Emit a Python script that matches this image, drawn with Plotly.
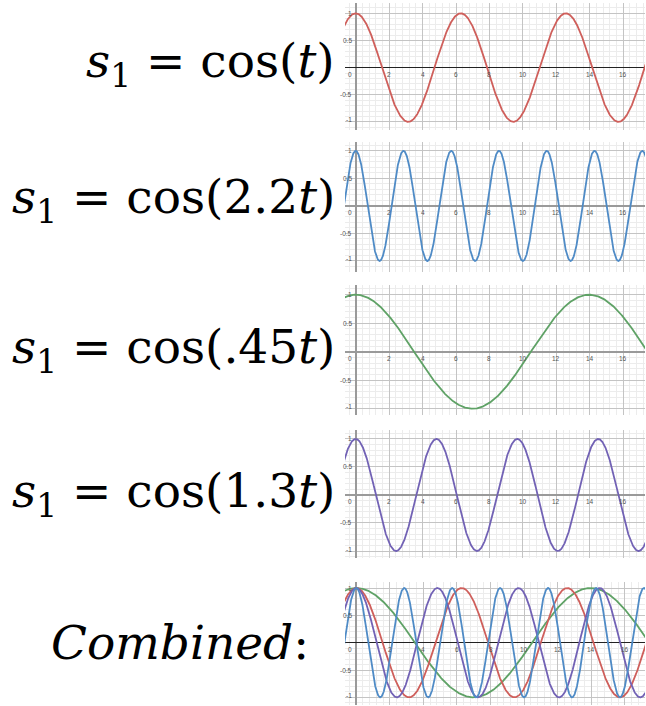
import numpy as np
import plotly.graph_objects as go

# ---- data ----
freqs = [1.0, 2.2, 0.45, 1.3]
colors = ["#cf5f5b", "#4f8bc6", "#5fa266", "#7262b5"]
labels = [
    "<i>s</i><sub>1</sub> = cos(<i>t</i>)",
    "<i>s</i><sub>1</sub> = cos(2.2<i>t</i>)",
    "<i>s</i><sub>1</sub> = cos(.45<i>t</i>)",
    "<i>s</i><sub>1</sub> = cos(1.3<i>t</i>)",
    "<i>Combined</i>:",
]
x_ticks = [2, 4, 6, 8, 10, 12, 14, 16]
x_tick_text = ["2", "4", "6", "8", "10", "12", "14", "16"]
y_ticks = [1, 0.5, -0.5, -1]
y_tick_text = ["1", "0.5", "-0.5", "-1"]

W, H = 646, 706
# panel pixel boxes (top, bottom) and ranges
panels = [
    dict(top=3, bottom=130, yr=[-1.15, 1.19], xr=[-0.64, 17.3], axis="#222222"),
    dict(top=142, bottom=272, yr=[-1.20, 1.16], xr=[-0.64, 17.3], axis="#9a9a9a"),
    dict(top=285, bottom=415, yr=[-1.11, 1.17], xr=[-0.64, 17.3], axis="#9a9a9a"),
    dict(top=430, bottom=558, yr=[-1.125, 1.16], xr=[-0.64, 17.3], axis="#9a9a9a"),
    dict(top=582, bottom=705, yr=[-1.14, 1.11], xr=[-0.67, 17.2], axis="#222222"),
]
x0px, x1px = 345, 645
text_y = [64, 200, 350, 494, 642]
text_x = [337, 337, 337, 337, 311]

t = np.arange(-0.8, 17.5, 0.01)

fig = go.Figure()
annotations = []
tick_font = dict(size=6.5, color="#555555", family="Liberation Sans")
for i, p in enumerate(panels):
    n = "" if i == 0 else str(i + 1)
    xa, ya = "x" + n, "y" + n
    if i < 4:
        series = [(freqs[i], colors[i])]
    else:
        series = [(f, c) for f, c in zip(freqs, colors)]
        series = [series[2], series[0], series[3], series[1]]
    for f, c in series:
        fig.add_trace(go.Scatter(x=t, y=np.cos(f * t), mode="lines",
                                 line=dict(color=c, width=1.8),
                                 xaxis=xa, yaxis=ya, showlegend=False,
                                 hoverinfo="skip"))
    dom_y = [1 - p["bottom"] / H, 1 - p["top"] / H]
    dom_x = [x0px / W, x1px / W]
    fig.update_layout({
        ("xaxis" + n): dict(domain=dom_x, range=p["xr"], anchor=ya,
                            tick0=0, dtick=2, showgrid=True,
                            gridcolor="#c4c4c4", gridwidth=1,
                            minor=dict(dtick=0.4, showgrid=True,
                                       gridcolor="#ececec", gridwidth=1),
                            zeroline=True, zerolinecolor="#9a9a9a",
                            zerolinewidth=2, showticklabels=False,
                            showline=False, fixedrange=True),
        ("yaxis" + n): dict(domain=dom_y, range=p["yr"], anchor=xa,
                            tick0=0, dtick=0.5, showgrid=True,
                            gridcolor="#c4c4c4", gridwidth=1,
                            minor=dict(dtick=0.1, showgrid=True,
                                       gridcolor="#ececec", gridwidth=1),
                            zeroline=True, zerolinecolor=p["axis"],
                            zerolinewidth=1.6, showticklabels=False,
                            showline=False, fixedrange=True),
    })
    # tick labels in the Desmos style (inside the plot, next to the axes)
    for v, s in zip(x_ticks, x_tick_text):
        annotations.append(dict(x=v, y=0, xref=xa, yref=ya, text=s,
                                showarrow=False, yanchor="top", yshift=-1,
                                font=tick_font))
    annotations.append(dict(x=-0.12, y=0, xref=xa, yref=ya, text="0",
                            showarrow=False, yanchor="top", xanchor="right",
                            yshift=-1, font=tick_font))
    for v, s in zip(y_ticks, y_tick_text):
        ys = 2 if v == -1 else 0
        annotations.append(dict(x=-0.12, y=v, xref=xa, yref=ya, text=s,
                                showarrow=False, xanchor="right",
                                yanchor="middle", yshift=ys,
                                font=tick_font))

for i, s in enumerate(labels):
    annotations.append(dict(x=text_x[i] / W, y=1 - text_y[i] / H,
                            xref="paper", yref="paper", text=s,
                            showarrow=False, xanchor="right",
                            yanchor="middle",
                            font=dict(size=47, color="#000000",
                                      family="DejaVu Serif")))

fig.update_layout(width=W, height=H, margin=dict(l=0, r=0, t=0, b=0),
                  paper_bgcolor="white", plot_bgcolor="white",
                  annotations=annotations)
fig.write_html("out.html",
               config={"displayModeBar": False, "staticPlot": True},
               post_script="document.body.style.margin='0px';"
                           "document.body.style.overflow='hidden';")
